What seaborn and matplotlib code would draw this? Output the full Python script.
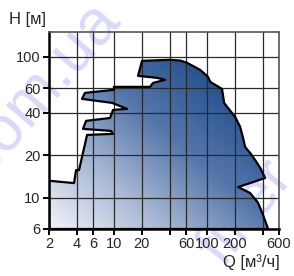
import numpy as np
import matplotlib
matplotlib.use("Agg")
import matplotlib.pyplot as plt
import seaborn as sns
from matplotlib.colors import LinearSegmentedColormap
from matplotlib.patches import Polygon

# === Data: outline of the pump range (Q in m3/h, H in m) ===
q_vals = [2, 2, 3.72, 3.91, 4.21, 5.14, 9.79, 9.31, 4.65, 5.01, 9.08, 9.79, 13.9,
          9.55, 4.53, 4.89, 10.0, 10.0, 24.5, 26.4, 35.6, 29.2, 18.2, 20.1, 40.3,
          52, 61.4, 84.8, 103, 109, 146, 154, 166, 202, 229, 246, 259, 293, 332,
          376, 425, 218, 293, 357, 405, 458]
h_vals = [6, 13.2, 12.7, 15.7, 15.7, 27.9, 28.4, 29.8, 30.8, 35.1, 36.8, 42.0, 42.7,
          47.1, 50.3, 55.5, 58.3, 61.2, 61.2, 65.3, 68.6, 70.9, 73.3, 93.6, 95.2,
          94.0, 90.6, 80.8, 72.1, 66.4, 59.2, 47.1, 44.1, 37.5, 31.8, 26.6, 22.9,
          20.8, 18.5, 16.3, 13.8, 11.9, 10.8, 9.2, 7.5, 6]

x_ticks = [2, 4, 6, 10, 20, 40, 60, 100, 200, 400, 600]
x_labels = ["2", "4", "6", "10", "20", "", "60", "100", "200", "", "600"]
y_ticks = [6, 10, 20, 40, 60, 100]
y_labels = ["6", "10", "20", "40", "60", "100"]

# === Style ===
sns.set_style("ticks")
plt.rcParams["font.family"] = ["Liberation Sans", "DejaVu Sans"]

fig = plt.figure(figsize=(2.94, 2.76), dpi=100)
fig.patch.set_facecolor("white")
ax = fig.add_axes([0.1667, 0.1703, 0.7823, 0.7138])
ax.patch.set_alpha(0)

# === Watermark (behind everything) ===
fig.text(-0.05, 0.35, "com.ua", rotation=49, rotation_mode="anchor",
         fontsize=46, color="#d8daf8", zorder=-5)
fig.text(1.0, 0.36, "filter", rotation=52, rotation_mode="anchor", ha="right",
         fontsize=44, color="#d8daf8", zorder=-5)

ax.set_xscale("log")
ax.set_yscale("log")

# === Gradient fill clipped to the outline ===
poly = Polygon(np.column_stack([q_vals, h_vals]), closed=True,
               transform=ax.transData, facecolor="none", edgecolor="none")
ax.add_patch(poly)
cmap = LinearSegmentedColormap.from_list(
    "pump", ["#f2f3f9", "#a9b8d5", "#5576ab", "#24508e", "#083a78"])
yy, xx = np.mgrid[0:1:200j, 0:1:200j]
grad = (xx + yy) / 2
im = ax.imshow(grad, extent=[0, 1, 0, 1], transform=ax.transAxes, origin="lower",
               cmap=cmap, vmin=0, vmax=1, aspect="auto", zorder=0.2)
im.set_clip_path(poly)

# === Outline ===
sns.lineplot(x=q_vals + [q_vals[0]], y=h_vals + [h_vals[0]], sort=False,
             estimator=None, color="black", lw=1.6, ax=ax, zorder=2)

ax.set_xlim(2, 600)
ax.set_ylim(6, 150)
ax.set_xticks(x_ticks)
ax.set_xticklabels(x_labels)
ax.set_yticks(y_ticks)
ax.set_yticklabels(y_labels)
ax.minorticks_off()
ax.tick_params(axis="both", labelsize=10.5, length=4, width=1.4, color="black", pad=2)
ax.grid(True, color="#2a2a2a", lw=0.9)

for side in ["left", "bottom"]:
    ax.spines[side].set_color("black")
    ax.spines[side].set_linewidth(1.8)
for side in ["top", "right"]:
    ax.spines[side].set_visible(True)
    ax.spines[side].set_color("#555555")
    ax.spines[side].set_linewidth(1.2)

ax.set_xlabel("")
ax.set_ylabel("")
fig.text(0.095, 0.93, "H [м]", fontsize=12, ha="center", va="center")
fig.text(0.952, 0.05, "Q [м³/ч]", fontsize=12, ha="right", va="center")

fig.savefig("out.png", dpi=100)
plt.close()
